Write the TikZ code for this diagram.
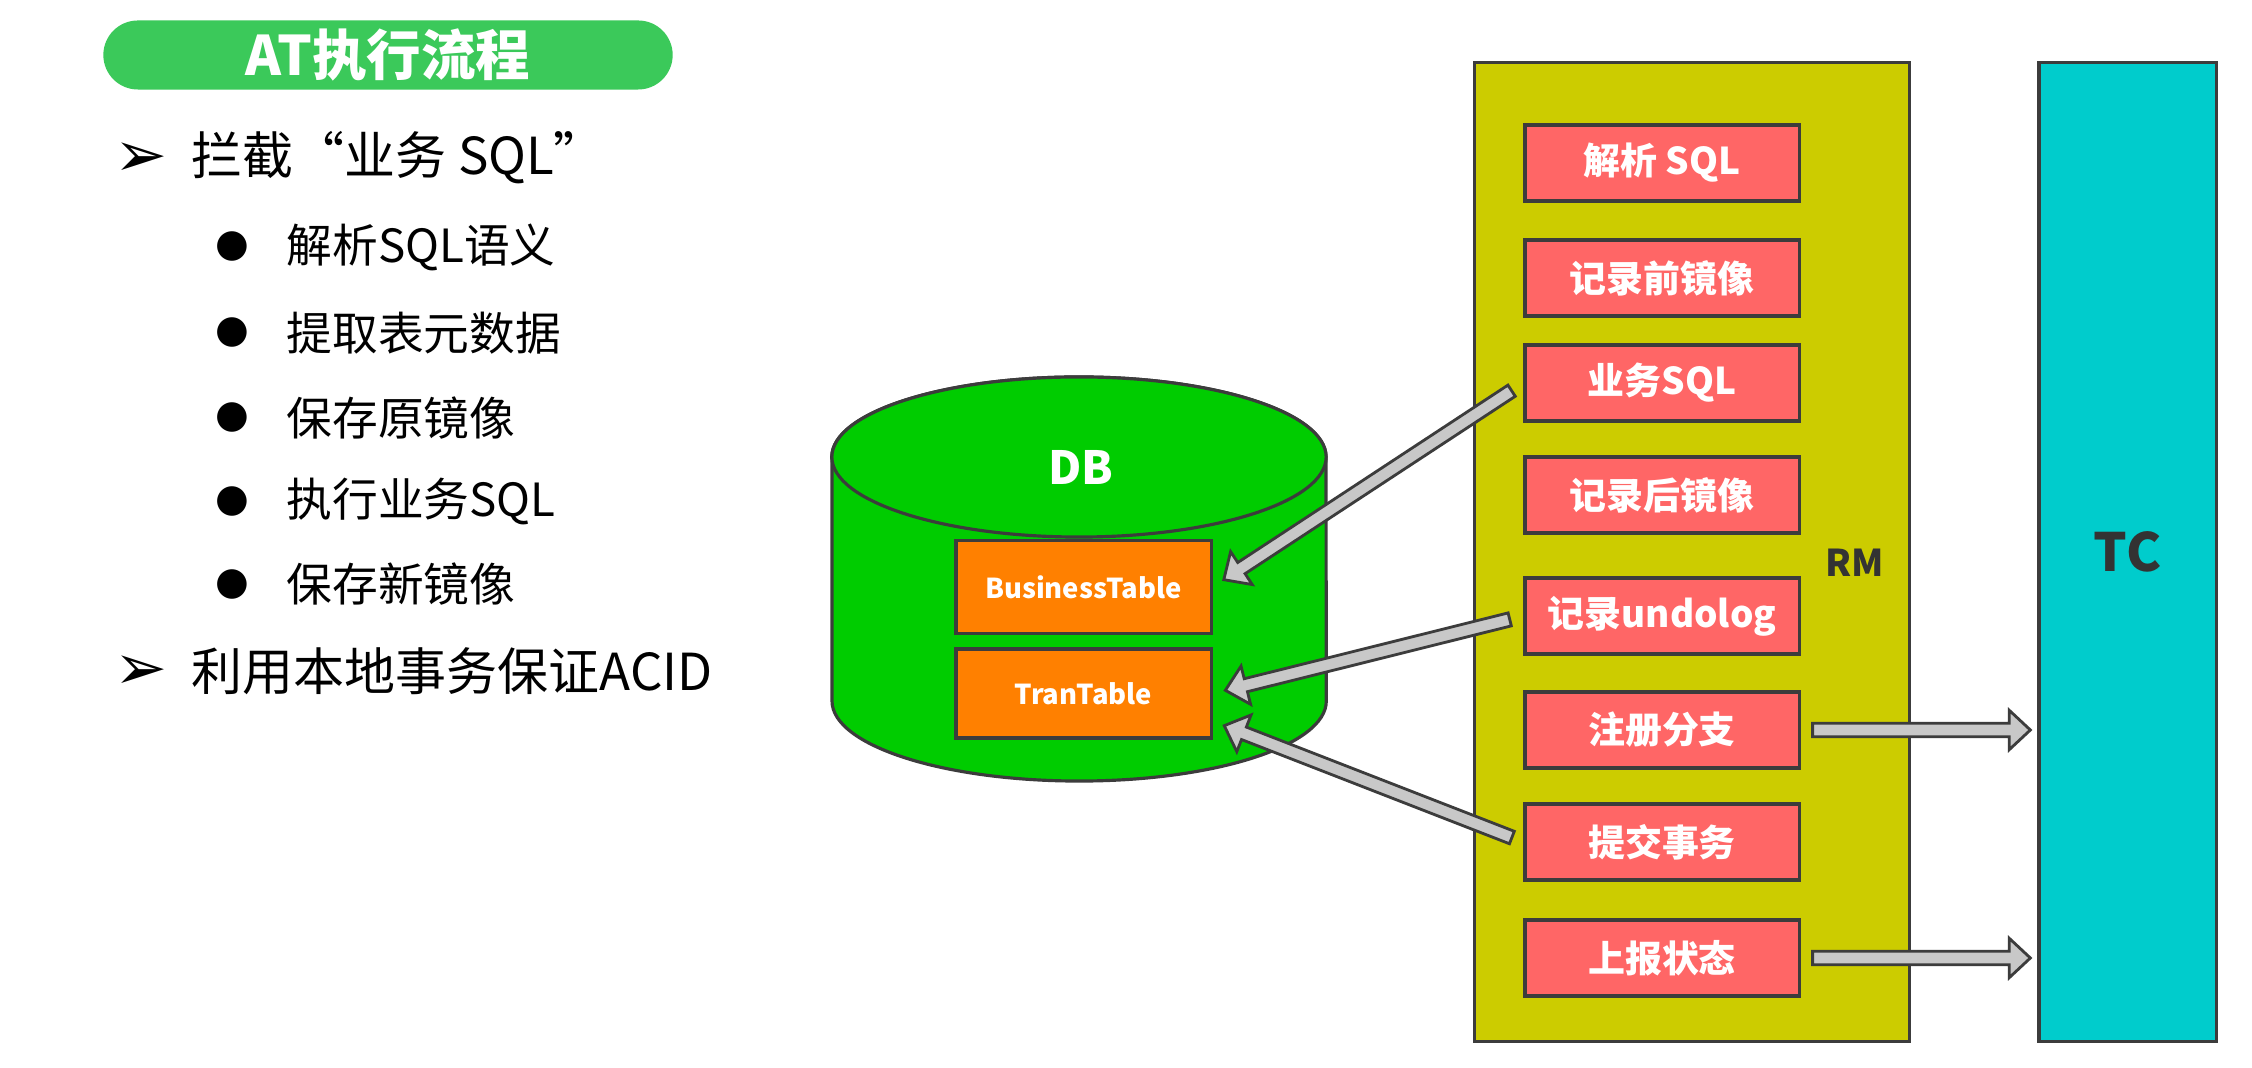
\documentclass[tikz,border=0pt]{standalone}
\usepackage{fontspec}
\setmainfont{Noto Sans CJK SC}
\newfontfamily\symfont{DejaVu Sans}
\usetikzlibrary{calc}
\definecolor{titlegreen}{RGB}{59,201,90}
\definecolor{dbgreen}{RGB}{0,204,0}
\definecolor{tblorange}{RGB}{255,128,0}
\definecolor{rmyellow}{RGB}{204,204,0}
\definecolor{tccyan}{RGB}{0,204,204}
\definecolor{stepred}{RGB}{255,102,102}
\definecolor{edgegray}{RGB}{60,60,60}
\definecolor{arrowfill}{RGB}{200,200,200}
\definecolor{labeldark}{RGB}{51,51,51}
\def\aw{1.9pt}
\def\ahw{5.6pt}
\def\ahl{6pt}
\newcommand\blockarrow[4]{%
  \path[blockarr] let \p1=(#1), \p2=(#2),
    \n1={atan2(\y2-\y1,\x2-\x1)}, \n2={veclen(\x2-\x1,\y2-\y1)} in
    ([shift={(\p1)},rotate=\n1]#3,-\aw)
    -- ([shift={(\p1)},rotate=\n1]{\n2*1pt-#4-\ahl},-\aw)
    -- ([shift={(\p1)},rotate=\n1]{\n2*1pt-#4-\ahl},-\ahw)
    -- ([shift={(\p1)},rotate=\n1]{\n2*1pt-#4},0pt)
    -- ([shift={(\p1)},rotate=\n1]{\n2*1pt-#4-\ahl},\ahw)
    -- ([shift={(\p1)},rotate=\n1]{\n2*1pt-#4-\ahl},\aw)
    -- ([shift={(\p1)},rotate=\n1]#3,\aw) -- cycle;}
\tikzset{
  titlepill/.style={fill=titlegreen, rounded corners=0.345cm, minimum width=5.69cm, minimum height=0.69cm, inner sep=0pt, text=white, font=\bfseries\fontsize{15.5pt}{15.5pt}\selectfont},
  arrowbullet/.style={inner sep=0pt, font=\symfont\fontsize{18pt}{18pt}\selectfont},
  dotbullet/.style={inner sep=0pt, font=\symfont\fontsize{11pt}{11pt}\selectfont},
  mainitem/.style={anchor=west, inner sep=0pt, font=\fontsize{14.5pt}{14.5pt}\selectfont},
  subitem/.style={anchor=west, inner sep=0pt, font=\fontsize{13pt}{13pt}\selectfont},
  rmbox/.style={draw=edgegray, line width=0.9pt, fill=rmyellow, minimum width=4.34cm, minimum height=9.78cm, inner sep=0pt},
  tcbox/.style={draw=edgegray, line width=0.9pt, fill=tccyan, minimum width=1.77cm, minimum height=9.78cm, inner sep=0pt, text=labeldark, font=\bfseries\fontsize{15pt}{15pt}\selectfont},
  rmlabel/.style={inner sep=0pt, text=labeldark, font=\bfseries\fontsize{10.5pt}{10.5pt}\selectfont},
  stepbox/.style={draw=edgegray, line width=0.9pt, fill=stepred, minimum width=2.74cm, minimum height=0.76cm, inner sep=0pt, text=white, font=\bfseries\fontsize{10.5pt}{10.5pt}\selectfont},
  tablebox/.style={draw=edgegray, line width=0.9pt, fill=tblorange, minimum width=2.55cm, inner sep=0pt, text=white, font=\bfseries\fontsize{7.8pt}{7.8pt}\selectfont},
  cyl/.style={draw=edgegray, line width=0.9pt, fill=dbgreen},
  dblabel/.style={inner sep=0pt, text=white, font=\bfseries\fontsize{13pt}{13pt}\selectfont},
  blockarr/.style={draw=edgegray, fill=arrowfill, line width=0.8pt, line join=miter},
}
\begin{document}
\begin{tikzpicture}[x=0.01cm, y=-0.01cm]
\useasboundingbox (0,0) rectangle (2252,1068);
\fill[white] (0,0) rectangle (2252,1068);

% left text panel
\node[titlepill] (title) at (388,55) {AT执行流程};
\node[arrowbullet] (ba1) at (141,160) {➢};
\node[mainitem] (i1) at (191,158) {拦截“业务 SQL”};
\node[dotbullet] (d1) at (232,247) {●};
\node[subitem] (s1t) at (286,247) {解析SQL语义};
\node[dotbullet] (d2) at (232,333) {●};
\node[subitem] (s2t) at (286,333) {提取表元数据};
\node[dotbullet] (d3) at (232,418) {●};
\node[subitem] (s3t) at (286,418) {保存原镜像};
\node[dotbullet] (d4) at (232,501) {●};
\node[subitem] (s4t) at (286,501) {执行业务SQL};
\node[dotbullet] (d5) at (232,584) {●};
\node[subitem] (s5t) at (286,584) {保存新镜像};
\node[arrowbullet] (ba2) at (141,673) {➢};
\node[mainitem] (i2) at (191,671) {利用本地事务保证ACID};

% DB cylinder
\path[cyl] (832,457) -- (832,701)
  arc[start angle=180, end angle=360, x radius=2.47cm, y radius=0.8cm]
  -- (1326,457)
  arc[start angle=0, end angle=180, x radius=2.47cm, y radius=0.8cm] -- cycle;
\path[cyl] (1079,457) ellipse [x radius=2.47cm, y radius=0.8cm];
\node[dblabel] (db) at (1081,467) {DB};
\node[tablebox, minimum height=0.93cm] (bt) at (1083.5,587) {BusinessTable};
\node[tablebox, minimum height=0.89cm] (tt) at (1083.5,693.5) {TranTable};

% RM and TC
\node[rmbox] (rm) at (1692,552) {};
\node[rmlabel] (rml) at (1855,563) {RM};
\node[tcbox] (tc) at (2127.5,552) {TC};

\node[stepbox] (s1) at (1662,163) {解析 SQL};
\node[stepbox] (s2) at (1662,278) {记录前镜像};
\node[stepbox] (s3) at (1662,383) {业务SQL};
\node[stepbox] (s4) at (1662,495) {记录后镜像};
\node[stepbox] (s5) at (1662,616) {记录undolog};
\node[stepbox] (s6) at (1662,730) {注册分支};
\node[stepbox] (s7) at (1662,842) {提交事务};
\node[stepbox] (s8) at (1662,958) {上报状态};

% connectors
\coordinate (ttlow) at ($(tt.south east)!0.2!(tt.north east)$);
\blockarrow{s3.west}{bt.east}{4pt}{3.7pt}
\blockarrow{s5.west}{tt.east}{4pt}{3.7pt}
\blockarrow{s7.west}{ttlow}{3.5pt}{3.5pt}
\blockarrow{s6.east}{s6.east -| tc.west}{3.4pt}{2pt}
\blockarrow{s8.east}{s8.east -| tc.west}{3.4pt}{2pt}
\end{tikzpicture}
\end{document}
